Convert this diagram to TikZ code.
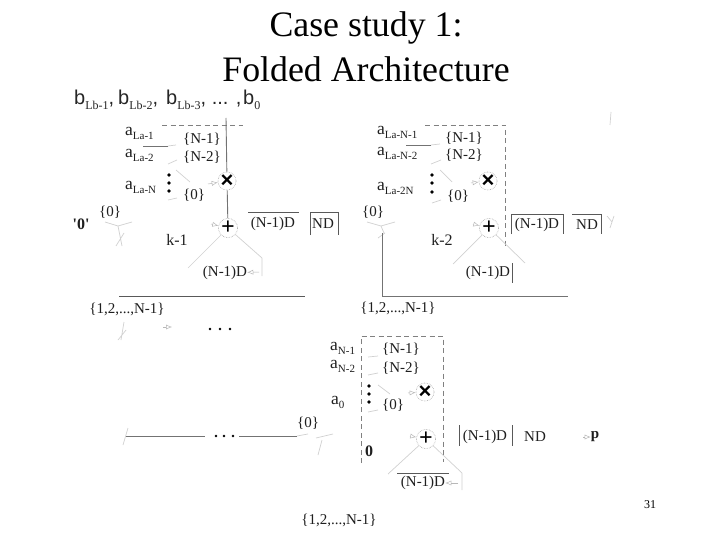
\documentclass[tikz,border=0pt]{standalone}
\usepackage{fontspec}
\setmainfont{Liberation Serif}
\newfontfamily\sansfam{Liberation Sans}
\newcommand{\lowtxt}[1]{\raisebox{-4pt}{\fontsize{11}{11}\selectfont #1}}
\newcommand{\symb}[2]{{\sansfam b}\raisebox{-5pt}{\fontsize{12}{12}\selectfont #1}#2}
\newcommand{\timesmark}{{\sansfam\bfseries\fontsize{22}{22}\selectfont ×}}
\usetikzlibrary{arrows.meta}
\tikzset{
  titletext/.style={font=\fontsize{35.8}{36}\selectfont,inner sep=0pt,text=black},
  lbl/.style={font=\fontsize{15}{15}\selectfont,inner sep=0pt,text=black!88},
  alabel/.style={font=\fontsize{17.5}{17.5}\selectfont,inner sep=0pt,text=black!88,anchor=west},
  seq/.style={font=\fontsize{20}{20}\selectfont,inner sep=0pt,text=black!85,anchor=west},
  wire/.style={draw=black!55,line width=0.9pt},
  rulel/.style={draw=black!65,line width=0.9pt},
  dashbox/.style={draw=black!50,line width=0.8pt,dash pattern=on 5pt off 3.5pt},
  faint/.style={draw=black!18,line width=0.7pt},
  ring/.style={circle,draw=black!35,densely dotted,line width=0.6pt,minimum size=18pt,inner sep=0pt},
  bigdot/.style={circle,fill=black,inner sep=0pt,minimum size=3.6pt},
  smalltip/.style={-{Latex[open,length=6pt,width=5pt]},draw=black!28,line width=0.5pt},
}
\begin{document}
\begin{tikzpicture}[x=1pt,y=-1pt]
\useasboundingbox (0,0) rectangle (720,540);
\fill[white] (0,0) rectangle (720,540);
% Title
\node[titletext] (t1) at (366,28) {Case study 1:};
\node[titletext] (t2) at (366,69) {Folded Architecture};
% Bit sequence
\node[seq] (b1) at (74,100) {\symb{Lb-1}{\sansfam,}};
\node[seq] (b2) at (118,100) {\symb{Lb-2}{\sansfam,}};
\node[seq] (b3) at (166,100) {\symb{Lb-3}{\sansfam, ... ,}};
\node[seq] (b4) at (243,100) {\symb{0}{}};
% ---------- Block 1
\coordinate (d1a) at (162,125); \coordinate (d1b) at (243,125);
\draw[dashbox] (d1a) -- (d1b);
\node[alabel] (a11) at (125,133) {a\lowtxt{La-1}};
\node[alabel] (a12) at (125,155) {a\lowtxt{La-2}};
\node[alabel] (a13) at (125,187) {a\lowtxt{La-N}};
\node[lbl,anchor=west] (n11) at (183,139) {\{N-1\}};
\node[lbl,anchor=west] (n12) at (183,157) {\{N-2\}};
\node[lbl,anchor=west] (n13) at (183,195) {\{0\}};
\node[bigdot] (p11) at (169,175) {}; \node[bigdot] (p12) at (169,183) {}; \node[bigdot] (p13) at (169,191) {};
\node[ring] (x1) at (227,181) {\timesmark};
\node[ring,font=\bfseries\fontsize{24}{24}\selectfont] (s1) at (228,228) {+};
\coordinate (b1top) at (226,118);
\draw[wire] (b1top) -- (x1);
\draw[wire] (x1) -- (s1);
\coordinate (w1a) at (143,146); \coordinate (w1b) at (168,146);
\draw[wire] (w1a) -- (w1b);
\draw[faint] (w1b) -- (176,145) (168,164) -- (177,160) (168,200) -- (177,198) (176,170) -- (190,182);
\coordinate (xin1) at (208,184); \draw[smalltip] (xin1) -- (x1);
\node[lbl,font=\bfseries\fontsize{16}{16}\selectfont] (zero1) at (81,224) {\textquotesingle 0\textquotesingle};
\node[lbl] (z1) at (110,212) {\{0\}};
\draw[faint] (105,222) -- (118,226) -- (132,222) (118,226) -- (122,246) (116,246) -- (124,233);
\node[lbl,font=\fontsize{16}{16}\selectfont] (k1) at (177,240) {k-1};
\coordinate (s1in) at (211,224); \draw[smalltip] (s1in) -- (s1);
\node[lbl] (d11) at (273,224) {(N-1)D};
\node[lbl] (nd1) at (323,224) {ND};
\coordinate (o1a) at (248,212); \coordinate (o1b) at (299,212);
\draw[rulel] (o1a) -- (o1b);
\coordinate (nb1) at (310,235); \coordinate (nb2) at (310,212); \coordinate (nb3) at (338,212); \coordinate (nb4) at (338,235);
\draw[rulel] (nb1) -- (nb2) -- (nb3) -- (nb4);
\node[lbl] (d12) at (225,273) {(N-1)D};
\coordinate (l1a) at (188,268); \coordinate (l1b) at (262,258); \coordinate (l1c) at (262,276);
\draw[faint] (s1) -- (l1a);
\draw[faint] (s1) -- (l1b) -- (l1c);
\draw[smalltip] (259,272) -- (d12);
\coordinate (r1a) at (119,296); \coordinate (r1b) at (305,296);
\draw[rulel] (r1a) -- (r1b);
\node[lbl] (set1) at (127,309) {\{1,2,...,N-1\}};
\draw[faint] (124,322) -- (121,340) (118,340) -- (126,330);
\coordinate (c1) at (163,327); \coordinate (c1b) at (172,327); \draw[smalltip] (c1) -- (c1b);
\node[bigdot,minimum size=2.8pt] (e1) at (210,329) {}; \node[bigdot,minimum size=2.8pt] (e2) at (220,329) {}; \node[bigdot,minimum size=2.8pt] (e3) at (230,329) {};
% ---------- Block 2
\coordinate (d2a) at (425,125); \coordinate (d2b) at (505,125); \coordinate (d2c) at (505,247);
\draw[dashbox] (d2a) -- (d2b) -- (d2c);
\node[alabel] (a21) at (377,132) {a\lowtxt{La-N-1}};
\node[alabel] (a22) at (377,153) {a\lowtxt{La-N-2}};
\node[alabel] (a23) at (377,188) {a\lowtxt{La-2N}};
\node[lbl,anchor=west] (n21) at (445,138) {\{N-1\}};
\node[lbl,anchor=west] (n22) at (445,155) {\{N-2\}};
\node[lbl,anchor=west] (n23) at (447,196) {\{0\}};
\node[bigdot] (p21) at (432,175) {}; \node[bigdot] (p22) at (432,183) {}; \node[bigdot] (p23) at (432,192) {};
\node[ring] (x2) at (488,181) {\timesmark};
\node[ring,font=\bfseries\fontsize{24}{24}\selectfont] (s2) at (489,228) {+};
\coordinate (w2a) at (406,145); \coordinate (w2b) at (431,145);
\draw[wire] (w2a) -- (w2b);
\draw[faint] (w2b) -- (440,144) (431,164) -- (441,160) (432,203) -- (441,200) (440,170) -- (452,182);
\coordinate (xin2) at (471,183); \draw[smalltip] (xin2) -- (x2);
\node[lbl] (z2) at (373,212) {\{0\}};
\draw[faint] (367,222) -- (381,226) -- (395,222) (381,226) -- (384,233) (378,238) -- (385,233);
\coordinate (v2a) at (382,233); \coordinate (v2b) at (382,296); \coordinate (v2c) at (568,296);
\draw[wire] (v2a) -- (v2b) -- (v2c);
\node[lbl] (set2) at (398,308) {\{1,2,...,N-1\}};
\node[lbl,font=\fontsize{16}{16}\selectfont] (k2) at (442,240) {k-2};
\coordinate (s2in) at (473,224); \draw[smalltip] (s2in) -- (s2);
\node[lbl] (d21) at (537,225) {(N-1)D};
\node[lbl] (nd2) at (587,225) {ND};
\coordinate (b2a) at (511,234); \coordinate (b2b) at (511,214); \coordinate (b2c) at (563,214); \coordinate (b2d) at (563,234);
\draw[rulel] (b2a) -- (b2b) -- (b2c) -- (b2d);
\coordinate (b2e) at (572,214); \coordinate (b2f) at (601,214); \coordinate (b2g) at (601,234);
\draw[rulel] (b2e) -- (b2f) -- (b2g);
\node[lbl] (d22) at (488,273) {(N-1)D};
\coordinate (v2x) at (512,263); \coordinate (v2y) at (512,283);
\draw[rulel] (v2x) -- (v2y);
\coordinate (l2a) at (453,264); \coordinate (l2b) at (525,263);
\draw[faint] (s2) -- (l2a);
\draw[faint] (s2) -- (l2b);
\draw[faint] (611,112) -- (610,125) (614,216) -- (610,228) (607,216) -- (612,222);
% ---------- Block 3
\coordinate (d3a) at (361,463); \coordinate (d3b) at (361,336); \coordinate (d3c) at (443,336); \coordinate (d3d) at (443,462);
\draw[dashbox] (d3a) -- (d3b) -- (d3c) -- (d3d);
\node[alabel] (a31) at (330,348) {a\lowtxt{N-1}};
\node[alabel] (a32) at (330,366) {a\lowtxt{N-2}};
\node[alabel] (a33) at (331,402) {a\lowtxt{0}};
\node[lbl,anchor=west] (n31) at (382,349) {\{N-1\}};
\node[lbl,anchor=west] (n32) at (382,368) {\{N-2\}};
\node[lbl,anchor=west] (n33) at (382,405) {\{0\}};
\node[bigdot] (p31) at (369,386) {}; \node[bigdot] (p32) at (369,394) {}; \node[bigdot] (p33) at (369,402) {};
\node[ring] (x3) at (425,392) {\timesmark};
\node[ring,font=\bfseries\fontsize{24}{24}\selectfont] (s3) at (426,439) {+};
\draw[faint] (368,357) -- (378,356) (368,375) -- (378,373) (368,412) -- (378,410) (378,385) -- (390,394);
\coordinate (xin3) at (408,393); \draw[smalltip] (xin3) -- (x3);
\coordinate (s3in) at (410,436); \draw[smalltip] (s3in) -- (s3);
\node[lbl,font=\bfseries\fontsize{16}{16}\selectfont] (zero3) at (369,451) {0};
\node[lbl] (d31) at (485,437) {(N-1)D};
\node[lbl] (nd3) at (535,437) {ND};
\coordinate (b3a) at (459,425); \coordinate (b3b) at (459,446); \coordinate (b3c) at (512,425); \coordinate (b3d) at (512,446);
\draw[rulel] (b3a) -- (b3b);
\draw[rulel] (b3c) -- (b3d);
\node[lbl,font=\bfseries\fontsize{15}{15}\selectfont] (pout) at (595,437) {p};
\coordinate (pin) at (583,437); \draw[smalltip] (pin) -- (pout);
\node[lbl] (d32) at (423,483) {(N-1)D};
\coordinate (o3a) at (397,473); \coordinate (o3b) at (449,473);
\draw[rulel] (o3a) -- (o3b);
\coordinate (l3a) at (388,474); \coordinate (l3b) at (462,473); \coordinate (l3c) at (462,490);
\draw[faint] (s3) -- (l3a);
\draw[faint] (s3) -- (l3b) -- (l3c);
\draw[smalltip] (458,483) -- (d32);
% Return line
\coordinate (r3a) at (125,436); \coordinate (r3b) at (205,436); \coordinate (r3c) at (239,436); \coordinate (r3d) at (297,436);
\draw[wire] (r3a) -- (r3b);
\draw[wire] (r3c) -- (r3d);
\node[bigdot,minimum size=2.8pt] (e4) at (216,436) {}; \node[bigdot,minimum size=2.8pt] (e5) at (224,436) {}; \node[bigdot,minimum size=2.8pt] (e6) at (233,436) {};
\draw[faint] (128,428) -- (123,445) (297,436) -- (308,434) (316,438) -- (333,434) (322,440) -- (318,455);
\node[lbl] (z3) at (308,423) {\{0\}};
\node[lbl] (set3) at (339,520) {\{1,2,...,N-1\}};
% Page number
\node[font=\fontsize{12}{12}\selectfont,inner sep=0pt] (pg) at (650,505) {31};
\end{tikzpicture}
\end{document}
